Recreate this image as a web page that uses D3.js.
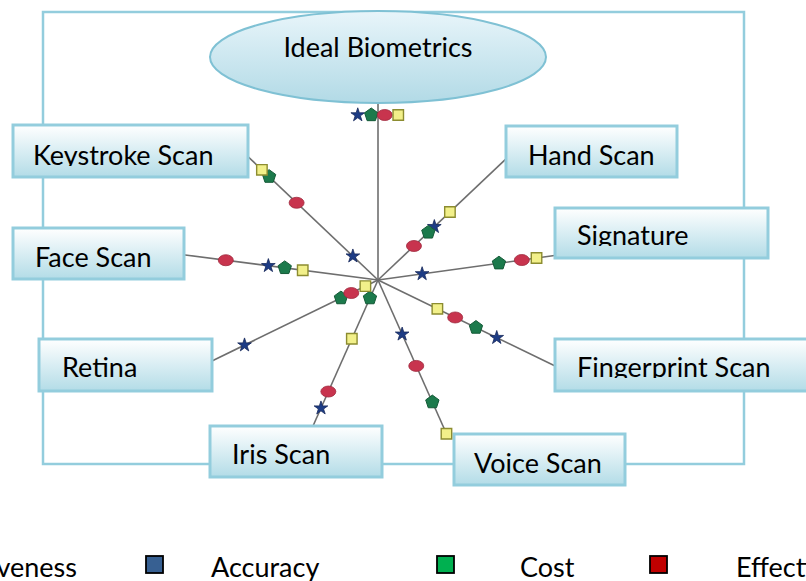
<!DOCTYPE html>
<html>
<head>
<meta charset="utf-8">
<script src="https://cdn.jsdelivr.net/npm/d3@7"></script>
<style>
  body { margin: 0; background: #fff; }
  svg { display: block; }
  text { font-family: Lato, "Open Sans", sans-serif; fill: #000; }
</style>
</head>
<body>
<svg width="806" height="581"></svg>
<script>
// spokes, clockwise from the top
const categories = ["Ideal Biometrics", "Hand Scan", "Signature", "Fingerprint Scan", "Voice Scan",
    "Iris Scan", "Retina", "Face Scan", "Keystroke Scan"];
const angles = [90, 43.4, 7.9, -25.9, -66, -114, -154, 172.6, 136.5];   // degrees
const reach = [10.7, 10.7, 10.8, 11.9, 10.3, 9.8, 11.3, 11.9, 11.0];      // spoke length, same units as values

const seriesNames = ["Accuracy", "Cost", "Effectiveness", "Intrusiveness"];
const accuracy = [10, 4.7, 2.7, 8.0, 3.6, 8.5, 9.0, 6.7, 2.1];
const cost = [10, 4.2, 7.4, 6.6, 8.1, 1.2, 2.5, 5.7, 9.1];
const effectiveness = [10, 3.0, 8.8, 5.2, 5.7, 7.4, 1.8, 9.3, 6.8];
const intrusiveness = [10, 6.0, 9.7, 4.0, 10.2, 3.9, 0.85, 4.6, 9.7];
const seriesValues = [accuracy, cost, effectiveness, intrusiveness];

// ---- layout ----
let width = 806, height = 581;
let cx = 378, cy = 280;
let fontSize = 27;
let svg = d3.select("svg");

let r = d3.scaleLinear().domain([0, 10]).range([0, 165]);

// label boxes [x, y, w, h, text dx, baseline dy]; first one is the ellipse
let boxes = [
    null,
    [506, 126, 171, 51, 22, 39],
    [555, 208, 213, 50, 22, 37],
    [555, 339, 262, 52, 22, 38],
    [454, 434, 171, 51, 20, 39],
    [210, 426, 172, 51, 22, 38],
    [39, 339, 173, 52, 23, 38],
    [13, 228, 171, 51, 22, 39],
    [13, 125, 235, 52, 20, 40]
];

let defs = svg.append("defs");
let gb = defs.append("linearGradient").attr("id", "boxFill").attr("x1", 0).attr("y1", 0).attr("x2", 0).attr("y2", 1);
gb.append("stop").attr("offset", "0%").attr("stop-color", "#ffffff");
gb.append("stop").attr("offset", "100%").attr("stop-color", "#b3dce7");
let ge = defs.append("linearGradient").attr("id", "ellFill").attr("x1", 0).attr("y1", 0).attr("x2", 0).attr("y2", 1);
ge.append("stop").attr("offset", "0%").attr("stop-color", "#e8f5fa");
ge.append("stop").attr("offset", "100%").attr("stop-color", "#b2dae6");

const lineBlue = "#93cddd";

// outer frame
svg.append("rect")
    .attr("x", 43).attr("y", 12).attr("width", 701).attr("height", 452)
    .attr("fill", "none").attr("stroke", lineBlue).attr("stroke-width", 2.5);

function pt(i, v, off) {
    let a = angles[i] * Math.PI / 180;
    let d = r(v);
    off = off || 0;
    return [cx + d * Math.cos(a) + off * Math.sin(a), cy - d * Math.sin(a) + off * Math.cos(a)];
}

// spokes
svg.append("g").selectAll("line")
    .data(categories).enter()
    .append("line")
    .attr("x1", cx).attr("y1", cy)
    .attr("x2", (d, i) => pt(i, reach[i])[0])
    .attr("y2", (d, i) => pt(i, reach[i])[1])
    .attr("stroke", "#6e6e6e").attr("stroke-width", 1.6);

// label boxes
let labels = svg.append("g");
categories.forEach(function (name, i) {
    let b = boxes[i];
    if (!b) {
        labels.append("ellipse")
            .attr("cx", cx).attr("cy", 57).attr("rx", 168).attr("ry", 46)
            .attr("fill", "url(#ellFill)").attr("stroke", "#7fc1d4").attr("stroke-width", 2);
        labels.append("text")
            .attr("x", cx).attr("y", 57).attr("text-anchor", "middle")
            .attr("font-size", fontSize).text(name);
        return;
    }
    labels.append("rect")
        .attr("x", b[0]).attr("y", b[1]).attr("width", b[2]).attr("height", b[3])
        .attr("fill", "url(#boxFill)").attr("stroke", lineBlue).attr("stroke-width", 3);
    // text is cut just under its baseline, as in the original
    let cid = "clip" + i;
    defs.append("clipPath").attr("id", cid).append("rect")
        .attr("x", b[0]).attr("y", b[1]).attr("width", b[2]).attr("height", b[5] + 1);
    labels.append("text")
        .attr("clip-path", "url(#" + cid + ")")
        .attr("x", b[0] + b[4]).attr("y", b[1] + b[5])
        .attr("font-size", fontSize).text(name);
});

// markers
let markerStyle = [
    { fill: "#1d3c85", stroke: "#16285a" },   // star
    { fill: "#1c7a4c", stroke: "#145a37" },   // pentagon
    { fill: "#c8344e", stroke: "#9e2a3e" },   // ellipse
    { fill: "#f2f08a", stroke: "#8c8c30" }    // square
];

function pentagon(s) {
    let p = d3.range(5).map(k => {
        let a = -Math.PI / 2 + k * 2 * Math.PI / 5;
        return [s * Math.cos(a), s * Math.sin(a)];
    });
    return "M" + p.join("L") + "Z";
}

let marks = [];
categories.forEach(function (name, i) {
    // markers sharing a value are set side by side across the spoke
    let groups = d3.group(seriesValues.map((vals, s) => s), s => seriesValues[s][i]);
    groups.forEach(function (list) {
        list.forEach(function (s, k) {
            let off = (k - (list.length - 1) / 2) * 13.5;
            marks.push({ s: s, p: pt(i, seriesValues[s][i], off) });
        });
    });
});
marks.sort((a, b) => a.s - b.s);

let mg = svg.append("g");
marks.forEach(function (m) {
    let st = markerStyle[m.s];
    let tr = "translate(" + m.p[0] + "," + m.p[1] + ")";
    if (m.s === 0) {
        mg.append("path").attr("transform", tr)
            .attr("d", d3.symbol(d3.symbolStar, 58)())
            .attr("fill", st.fill).attr("stroke", st.stroke).attr("stroke-width", 0.8);
    } else if (m.s === 1) {
        mg.append("path").attr("transform", tr)
            .attr("d", pentagon(7))
            .attr("fill", st.fill).attr("stroke", st.stroke).attr("stroke-width", 1);
    } else if (m.s === 2) {
        mg.append("ellipse").attr("transform", tr)
            .attr("rx", 7.5).attr("ry", 5.5)
            .attr("fill", st.fill).attr("stroke", st.stroke).attr("stroke-width", 0.8);
    } else {
        mg.append("path").attr("transform", tr)
            .attr("d", d3.symbol(d3.symbolSquare, 110)())
            .attr("fill", st.fill).attr("stroke", st.stroke).attr("stroke-width", 1.4);
    }
});

// legend (row runs off both edges of the page)
let legendColors = ["#376092", "#00b050", "#c00000", "#f2f08a"];
let legendSquareX = [146, 437, 650, -145];
let legendTextX = [211, 520, 736, 77];
let lg = svg.append("g");
seriesNames.forEach(function (name, s) {
    lg.append("rect")
        .attr("x", legendSquareX[s]).attr("y", 556).attr("width", 17).attr("height", 17)
        .attr("fill", legendColors[s]).attr("stroke", "#000").attr("stroke-width", 1.8);
    lg.append("text")
        .attr("x", legendTextX[s]).attr("y", 577)
        .attr("text-anchor", s === 3 ? "end" : "start")
        .attr("font-size", fontSize).text(name);
});
</script>
</body>
</html>
